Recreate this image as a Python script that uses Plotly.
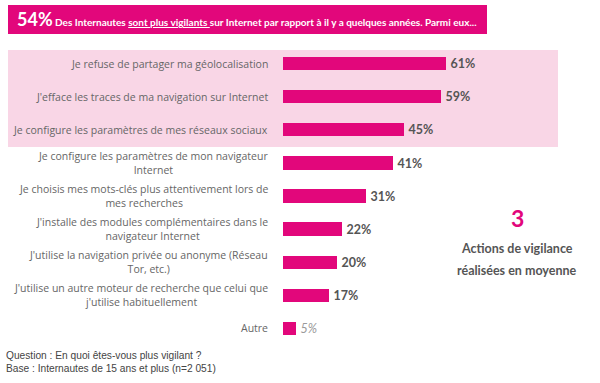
import plotly.graph_objects as go

categories = [
    "Je refuse de partager ma géolocalisation",
    "J'efface les traces de ma navigation sur Internet",
    "Je configure les paramètres de mes réseaux sociaux",
    "Je configure les paramètres de mon navigateur<br>Internet",
    "Je choisis mes mots-clés plus attentivement lors de<br>mes recherches",
    "J'installe des modules complémentaires dans le<br>navigateur Internet",
    "J'utilise la navigation privée ou anonyme (Réseau<br>Tor, etc.)",
    "J'utilise un autre moteur de recherche que celui que<br>j'utilise habituellement",
    "Autre",
]
values = [61, 59, 45, 41, 31, 22, 20, 17, 5]

MAGENTA = "#E2077B"
PINK_BG = "#F9D6E6"
GREY = "#555555"

W, H = 600, 383
L, T, PW, PH = 283, 47, 268, 298


def px_x(p):
    return (p - L) / PW


def px_y(p):
    return (T + PH - p) / PH


ypos = list(range(len(categories)))
texts = [f"\u2009<b>{v}%</b>" if c != "Autre" else f"\u2009<i>{v}%</i>" for c, v in zip(categories, values)]
tcolors = [GREY if c != "Autre" else "#9a9a9a" for c in categories]

fig = go.Figure()
fig.add_trace(go.Bar(
    x=values, y=ypos, orientation="h",
    marker=dict(color=MAGENTA, line=dict(width=0)),
    width=0.4,
    text=texts, textposition="outside", cliponaxis=False, constraintext="none",
    textfont=dict(family="Lato", size=12.5, color=tcolors),
    hoverinfo="skip",
))

shapes = [
    dict(type="rect", xref="paper", yref="paper", x0=px_x(8), x1=px_x(558),
         y0=px_y(147), y1=px_y(50), fillcolor=PINK_BG, line=dict(width=0), layer="below"),
    dict(type="rect", xref="paper", yref="paper", x0=px_x(8), x1=px_x(487),
         y0=px_y(34), y1=px_y(5), fillcolor=MAGENTA, line=dict(width=0), layer="below"),
]

annotations = []
for i, c in enumerate(categories):
    annotations.append(dict(
        x=px_x(270), xref="paper", y=i, yref="y", text=c, showarrow=False,
        xanchor="right", yanchor="middle", align="center",
        font=dict(family="Open Sans", size=10.5, color="#666666"),
    ))

annotations.append(dict(
    x=px_x(15), xref="paper", y=px_y(19.5), yref="paper", xanchor="left", yanchor="middle",
    showarrow=False, align="left",
    text=("<b><span style='font-size:18px'>54%</span> Des Internautes <u>sont plus vigilants </u>"
          "sur Internet par rapport à il y a quelques années. Parmi eux...</b>"),
    font=dict(family="Lato", size=10, color="white"),
))

annotations.append(dict(
    x=px_x(517), xref="paper", y=px_y(218), yref="paper", showarrow=False,
    text="<b>3</b>", font=dict(family="Lato", size=23, color=MAGENTA),
    xanchor="center", yanchor="middle",
))
annotations.append(dict(
    x=px_x(517), xref="paper", y=px_y(248), yref="paper", showarrow=False,
    text="<b>Actions de vigilance</b>", font=dict(family="Lato", size=12.5, color=GREY),
    xanchor="center", yanchor="middle",
))
annotations.append(dict(
    x=px_x(517), xref="paper", y=px_y(270), yref="paper", showarrow=False,
    text="<b>réalisées en moyenne</b>", font=dict(family="Lato", size=12.5, color=GREY),
    xanchor="center", yanchor="middle",
))

footer = ["Question : En quoi êtes-vous plus vigilant ?",
          "Base : Internautes de 15 ans et plus (n=2 051)"]
for line, yy in zip(footer, [355, 368]):
    annotations.append(dict(
        x=px_x(4), xref="paper", y=px_y(yy), yref="paper", showarrow=False,
        text=line, xanchor="left", yanchor="middle",
        font=dict(family="Liberation Sans", size=10.2, color="#444444"),
    ))

fig.update_layout(
    width=W, height=H,
    margin=dict(l=L, r=W - L - PW, t=T, b=H - T - PH, pad=0),
    paper_bgcolor="white", plot_bgcolor="rgba(0,0,0,0)",
    showlegend=False,
    xaxis=dict(range=[0, 100], visible=False, fixedrange=True),
    yaxis=dict(range=[len(categories) - 0.5, -0.5], visible=False, fixedrange=True),
    shapes=shapes, annotations=annotations,
    bargap=0,
)

fig.write_html("out.html", config={"displayModeBar": False},
               post_script="document.body.style.margin='0px';document.body.style.overflow='hidden';")
